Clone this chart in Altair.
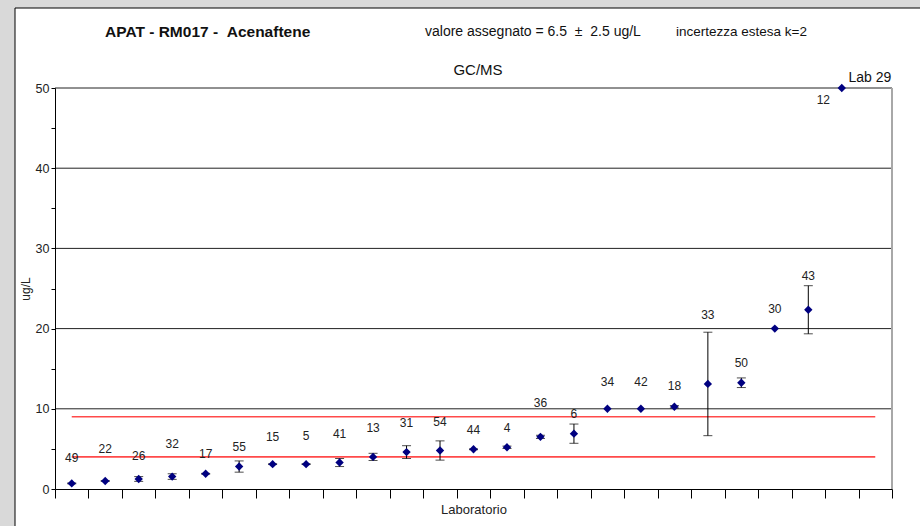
import altair as alt
import pandas as pd

# ---- data ----
labs = ["49", "22", "26", "32", "17", "55", "15", "5", "41", "13", "31", "54",
        "44", "4", "36", "6", "34", "42", "18", "33", "50", "30", "43", "12"]
values = [0.7, 1.0, 1.25, 1.55, 1.9, 2.8, 3.1, 3.1, 3.3, 4.0, 4.6, 4.8,
          4.95, 5.2, 6.5, 6.9, 10.0, 10.0, 10.25, 13.1, 13.25, 20.0, 22.35, 50.0]
errors = [0.05, 0.05, 0.3, 0.35, 0.05, 0.7, 0.05, 0.05, 0.5, 0.45, 0.8, 1.2,
          0.05, 0.15, 0.2, 1.2, 0.0, 0.0, 0.15, 6.45, 0.6, 0.0, 3.0, 0.0]
# data-label heights (in ug/L) as placed in the original chart
label_y = [3.9, 4.95, 4.08, 5.57, 4.36, 5.2, 6.45, 6.65, 6.86, 7.57, 8.19, 8.39,
           7.36, 7.57, 10.69, 9.35, 13.34, 13.34, 12.84, 21.7, 15.75, 22.4, 26.56, 48.5]
label_shift = [0] * 23 + [-0.55]
assigned_value = 6.5
expanded_unc = 2.5
grid_values = [10, 20, 30, 40, 50]
n_slots = 25

FONT = "Liberation Sans"

df = pd.DataFrame({
    "lab": labs,
    "x": [i + 0.5 for i in range(len(labs))],
    "v": values,
    "lo": [v - e for v, e in zip(values, errors)],
    "hi": [v + e for v, e in zip(values, errors)],
    "ly": label_y,
    "lx": [i + 0.5 + s for i, s in enumerate(label_shift)],
    "err": errors,
})
err_df = df[df["err"] > 0]

limits = pd.DataFrame({
    "y": [assigned_value - expanded_unc, assigned_value + expanded_unc],
    "x0": [0.5, 0.5],
    "x1": [n_slots - 0.5, n_slots - 0.5],
})
grid_df = pd.DataFrame({"g": grid_values})
border_df = pd.DataFrame({"b": [n_slots]})
one = pd.DataFrame({"a": [0]})
lab29 = pd.DataFrame({"x": [24.34], "y": [51.2], "t": ["Lab 29"]})

xscale = alt.Scale(domain=[0, n_slots], nice=False, zero=False)
yscale = alt.Scale(domain=[0, 50], nice=False)
xaxis = alt.Axis(values=list(range(n_slots + 1)), labels=False, grid=False, zindex=2,
                 tickSize=9, tickColor="#000", domainColor="#000",
                 title="Laboratorio", titleFont=FONT, titleFontSize=13,
                 titleFontWeight="normal", titleColor="#222", titlePadding=5)
yaxis = alt.Axis(values=list(range(0, 51, 5)), grid=False, zindex=2,
                 labelExpr="datum.value % 10 == 0 ? datum.label : ''",
                 tickSize=4, tickColor="#000", domainColor="#000",
                 labelFont=FONT, labelFontSize=12.5, labelColor="#222", labelPadding=2,
                 title="ug/L", titleFont=FONT, titleFontSize=12,
                 titleFontWeight="normal", titleColor="#222", titlePadding=3)


def X(f):
    return alt.X(f"{f}:Q", scale=xscale, axis=xaxis, title="Laboratorio")


def Y(f):
    return alt.Y(f"{f}:Q", scale=yscale, axis=yaxis, title="ug/L")


panel = alt.Chart(one).mark_rect(fill="white", stroke="#000", strokeWidth=1).encode(
    x=alt.value(-40), x2=alt.value(875), y=alt.value(-80), y2=alt.value(450))

grid = alt.Chart(grid_df).mark_rule(color="#222", strokeWidth=1).encode(y=Y("g"))
border = alt.Chart(border_df).mark_rule(color="#a8a8a8", strokeWidth=2).encode(x=X("b"))

red = alt.Chart(limits).mark_rule(color="#ff4a4a", strokeWidth=1.6).encode(
    x=X("x0"), x2="x1:Q", y=Y("y"))

bars = alt.Chart(err_df).mark_rule(color="#000", strokeWidth=1).encode(
    x=X("x"), y=Y("lo"), y2="hi:Q")
cap_lo = alt.Chart(err_df).mark_tick(color="#000", size=9, thickness=1, orient="horizontal").encode(
    x=X("x"), y=Y("lo"))
cap_hi = alt.Chart(err_df).mark_tick(color="#000", size=9, thickness=1, orient="horizontal").encode(
    x=X("x"), y=Y("hi"))

pts = alt.Chart(df).mark_point(shape="diamond", filled=True, size=70, color="#000080", opacity=1).encode(
    x=X("x"), y=Y("v"))

labels = alt.Chart(df).mark_text(font=FONT, fontSize=12, color="#222").encode(
    x=X("lx"), y=Y("ly"), text="lab:N")

lab29_txt = alt.Chart(lab29).mark_text(font=FONT, fontSize=14, color="#111").encode(
    x=X("x"), y=Y("y"), text="t:N")

title1 = alt.Chart(one).mark_text(text="APAT - RM017 - \u00a0Acenaftene", font=FONT, fontSize=15.5,
                                  fontWeight="bold", align="left", baseline="middle", color="#111").encode(
    x=alt.value(50), y=alt.value(-56))
title2 = alt.Chart(one).mark_text(text="valore assegnato = 6.5 \u00a0±\u00a0 2.5 ug/L", font=FONT, fontSize=14,
                                  align="left", baseline="middle", color="#111").encode(
    x=alt.value(370), y=alt.value(-56))
title3 = alt.Chart(one).mark_text(text="incertezza estesa k=2", font=FONT, fontSize=13.5,
                                  align="left", baseline="middle", color="#111").encode(
    x=alt.value(621), y=alt.value(-56))
title4 = alt.Chart(one).mark_text(text="GC/MS", font=FONT, fontSize=15,
                                  align="center", baseline="middle", color="#111").encode(
    x=alt.value(423), y=alt.value(-18))

chart = alt.layer(
    panel, grid, border, red, bars, cap_lo, cap_hi, pts, labels, lab29_txt,
    title1, title2, title3, title4
).properties(
    width=837, height=401,
    autosize=alt.AutoSizeParams(type="none"),
    padding={"left": 55, "top": 88, "right": 28, "bottom": 37},
    background="#d9d9d9",
).configure_view(stroke=None)

chart.save("out.html", embed_options={"renderer": "svg", "actions": False})
